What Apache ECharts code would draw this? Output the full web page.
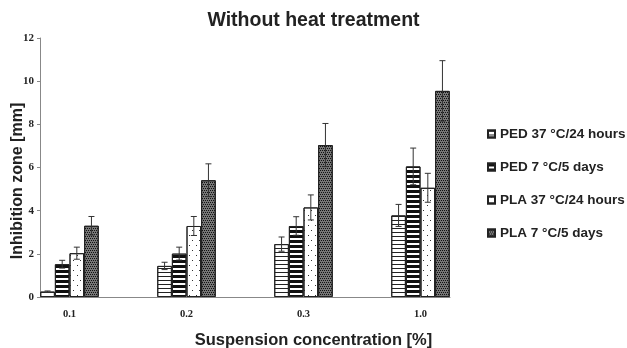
<!DOCTYPE html>
<html>
<head>
<meta charset="utf-8">
<script src="https://cdn.jsdelivr.net/npm/echarts@6/dist/echarts.min.js"></script>
<style>
  html, body { margin: 0; padding: 0; background: #fff; }
  #chart { width: 627px; height: 348px; }
</style>
</head>
<body>
<div id="chart"></div>
<script>
// concentrations on the x axis
const categories = ["0.1", "0.2", "0.3", "1.0"];
const seriesNames = [
  "PED 37 °C/24 hours",
  "PED 7 °C/5 days",
  "PLA 37 °C/24 hours",
  "PLA 7 °C/5 days"
];
// mean inhibition zone [mm]
const pedWarm = [0.25, 1.44, 2.45, 3.78];
const pedCold = [1.52, 2.01, 3.29, 6.05];
const plaWarm = [2.03, 3.29, 4.15, 5.06];
const plaCold = [3.30, 5.41, 7.04, 9.55];
// standard deviation
const pedWarmErr = [0.03, 0.17, 0.33, 0.51];
const pedColdErr = [0.18, 0.30, 0.43, 0.85];
const plaWarmErr = [0.28, 0.44, 0.58, 0.67];
const plaColdErr = [0.43, 0.76, 1.00, 1.40];
const yTicks = [0, 2, 4, 6, 8, 10, 12];

const means = [pedWarm, pedCold, plaWarm, plaCold];
const errs = [pedWarmErr, pedColdErr, plaWarmErr, plaColdErr];

const groupShare = 0.5; // part of each band taken by the 4 bars

const decals = [
  { symbol: "rect", symbolSize: 1, color: "#222", dashArrayX: [1, 0], dashArrayY: [1, 3] },
  { symbol: "rect", symbolSize: 1, color: "#111", dashArrayX: [1, 0], dashArrayY: [3, 2] },
  { symbol: "rect", symbolSize: 1, color: "#333", dashArrayX: [[1, 6], [0, 3, 1, 3]], dashArrayY: [1, 4] },
  { symbol: "rect", symbolSize: 1, color: "#111", dashArrayX: [[1, 1], [0, 1, 1, 0]], dashArrayY: [1, 1] }
];

const barSeries = seriesNames.map((name, k) => ({
  name: name,
  type: "bar",
  xAxisIndex: 0,
  yAxisIndex: 0,
  barGap: 0,
  barCategoryGap: (1 - groupShare) * 100 + "%",
  itemStyle: {
    color: k === 3 ? "#777" : "#fff",
    borderColor: "#222",
    borderWidth: 1,
    decal: decals[k]
  },
  data: means[k]
}));

const errData = [];
means.forEach((arr, k) => {
  arr.forEach((v, i) => errData.push([i, v, errs[k][i], k]));
});

const errorSeries = {
  name: "error",
  type: "custom",
  xAxisIndex: 0,
  yAxisIndex: 0,
  z: 5,
  renderItem: function (params, api) {
    const i = api.value(0), m = api.value(1), e = api.value(2), k = api.value(3);
    const bw = api.size([1, 0])[0] * groupShare / 4;
    const x = api.coord([i, m])[0] + (k - 1.5) * bw;
    const top = api.coord([i, m + e])[1];
    const bot = api.coord([i, m - e])[1];
    const cap = 3;
    const style = { stroke: "#333", lineWidth: 1 };
    return {
      type: "group",
      children: [
        { type: "line", shape: { x1: x, y1: top, x2: x, y2: bot }, style: style },
        { type: "line", shape: { x1: x - cap, y1: top, x2: x + cap, y2: top }, style: style },
        { type: "line", shape: { x1: x - cap, y1: bot, x2: x + cap, y2: bot }, style: style }
      ]
    };
  },
  data: errData
};

const chart = echarts.init(document.getElementById("chart"));
chart.setOption({
  animation: false,
  backgroundColor: "#fff",
  title: [
    {
      text: "Without heat treatment",
      left: "center",
      top: 6,
      textStyle: { fontFamily: "Liberation Sans", fontWeight: "bold", fontSize: 19.5, color: "#222" }
    },
    {
      text: "Suspension concentration [%]",
      left: "center",
      top: 327,
      textStyle: { fontFamily: "Liberation Sans", fontWeight: "bold", fontSize: 16.5, color: "#222" }
    }
  ],
  graphic: [
    {
      type: "text",
      x: 18,
      y: 181,
      rotation: Math.PI / 2,
      style: {
        text: "Inhibition zone [mm]",
        align: "center",
        verticalAlign: "middle",
        font: "bold 16px 'Liberation Sans'",
        fill: "#222"
      }
    }
  ],
  legend: {
    data: seriesNames,
    orient: "vertical",
    left: 482,
    top: 122,
    itemGap: 19,
    itemWidth: 7,
    itemHeight: 7,
    icon: "rect",
    textStyle: { fontFamily: "Liberation Sans", fontWeight: "bold", fontSize: 13.5, color: "#222" }
  },
  grid: [
    // bar grid: bands of the category axis run past the drawn axes
    { left: 11, right: 148, top: 38, bottom: 51, containLabel: false },
    // axes grid
    { left: 40, right: 177, top: 38, bottom: 51, containLabel: false }
  ],
  xAxis: [
    {
      type: "category",
      gridIndex: 0,
      data: categories,
      boundaryGap: true,
      axisLine: { show: false },
      axisTick: { show: false },
      axisLabel: {
        margin: 12,
        fontFamily: "Liberation Serif",
        fontWeight: "bold",
        fontSize: 10.5,
        color: "#222"
      }
    },
    {
      type: "value",
      gridIndex: 1,
      min: 0,
      max: 1,
      splitLine: { show: false },
      axisTick: { show: false },
      axisLabel: { show: false },
      axisLine: { show: true, lineStyle: { color: "#888" } }
    }
  ],
  yAxis: [
    {
      type: "value",
      gridIndex: 0,
      min: 0,
      max: 12,
      show: false
    },
    {
      type: "value",
      gridIndex: 1,
      min: 0,
      max: 12,
      interval: 2,
      splitLine: { show: false },
      axisLine: { show: true, lineStyle: { color: "#888" } },
      axisTick: { show: true, length: 3, lineStyle: { color: "#888" } },
      axisLabel: {
        formatter: v => (yTicks.includes(v) ? String(v) : ""),
        margin: 6,
        fontFamily: "Liberation Serif",
        fontWeight: "bold",
        fontSize: 11,
        color: "#222"
      }
    }
  ],
  series: barSeries.concat([errorSeries])
});
</script>
</body>
</html>
